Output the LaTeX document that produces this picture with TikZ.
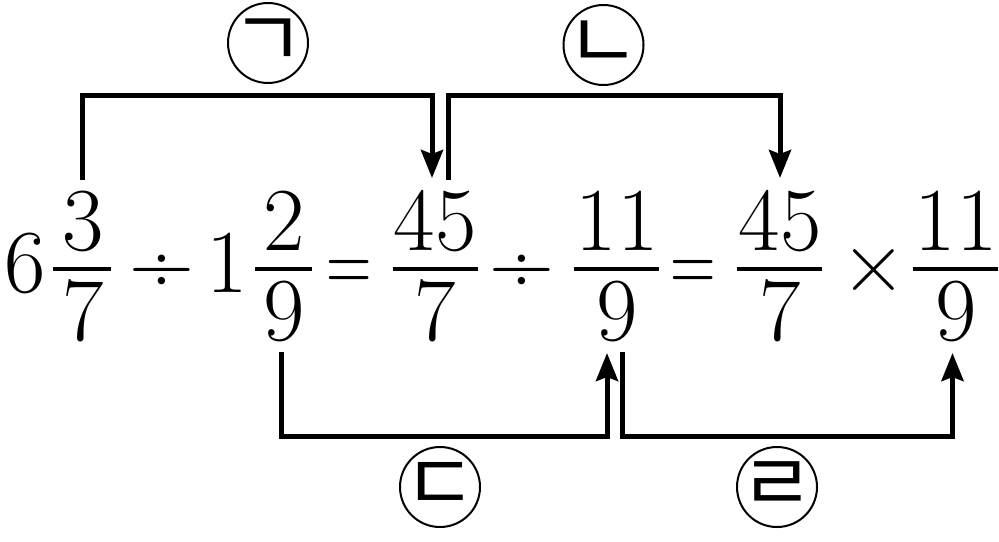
\documentclass[tikz,border=0pt]{standalone}
\usepackage{fontspec}
\usepackage{graphicx}
\newfontfamily\krfont{Noto Sans CJK KR}
\usetikzlibrary{arrows.meta}
\begin{document}
\begin{tikzpicture}[x=0.5pt,y=-0.5pt,
  conn/.style={line width=2.5pt, line cap=butt, line join=miter},
  arr/.style={conn, -{Stealth[length=14pt,width=11pt,inset=2pt]}},
  lab/.style={circle, draw, line width=1pt, minimum size=40pt, inner sep=0pt},
  labtxt/.style={inner sep=0pt, font=\krfont\fontsize{40}{40}\selectfont},
  mt/.style={inner sep=0pt, anchor=base, font=\fontsize{45}{54}\selectfont},
  fbar/.style={line width=2.2pt}]
\useasboundingbox (0,0) rectangle (999,541);
% main line, baseline y=292; numerators at 250, denominators at 340
\node[mt] (six) at (25,292) {6};
\node[mt] (n1) at (83,250) {3};
\node[mt] (d1) at (83,340) {7};
\draw[fbar] (53,269) -- (111,269);
\node[mt] (div1) at (162,292) {÷};
\node[mt] (one) at (227,292) {1};
\node[mt] (n2) at (284,250) {2};
\node[mt] (d2) at (284,340) {9};
\draw[fbar] (255,269) -- (312,269);
\node[mt] (eq1) at (349,292) {\scalebox{0.7}[1]{=}};
\node[mt] (n3) at (435,250) {45};
\node[mt] (d3) at (435,340) {7};
\draw[fbar] (393,269) -- (478,269);
\node[mt] (div2) at (522,292) {÷};
\node[mt] (n4) at (617,250) {11};
\node[mt] (d4) at (617,340) {9};
\draw[fbar] (574,269) -- (659,269);
\node[mt] (eq2) at (693,292) {\scalebox{0.7}[1]{=}};
\node[mt] (n5) at (780,250) {45};
\node[mt] (d5) at (780,340) {7};
\draw[fbar] (737,269) -- (822,269);
\node[mt] (times) at (874,292) {×};
\node[mt] (n6) at (956,250) {11};
\node[mt] (d6) at (956,340) {9};
\draw[fbar] (913,269) -- (998,269);
% circled labels
\node[lab, label={[labtxt]center:ㄱ}] (la) at (268,43) {};
\node[lab, label={[labtxt]center:ㄴ}] (lb) at (603.5,45) {};
\node[lab, label={[labtxt]center:ㄷ}] (lc) at (440,487) {};
\node[lab, label={[labtxt]center:ㄹ}] (ld) at (777,487) {};
% connector ends
\coordinate (topl) at (0,95.5);
\coordinate (botl) at (0,436.5);
\coordinate (aS) at (82,180);
\coordinate (aE) at (432,178);
\coordinate (bS) at (448,180);
\coordinate (bE) at (780,178);
\coordinate (cS) at (281,352);
\coordinate (cE) at (607,353);
\coordinate (dS) at (622.5,352);
\coordinate (dE) at (952.5,353);
\draw[arr] (aS) -- (aS |- topl) -| (aE);
\draw[arr] (bS) -- (bS |- topl) -| (bE);
\draw[arr] (cS) -- (cS |- botl) -| (cE);
\draw[arr] (dS) -- (dS |- botl) -| (dE);
\end{tikzpicture}
\end{document}
